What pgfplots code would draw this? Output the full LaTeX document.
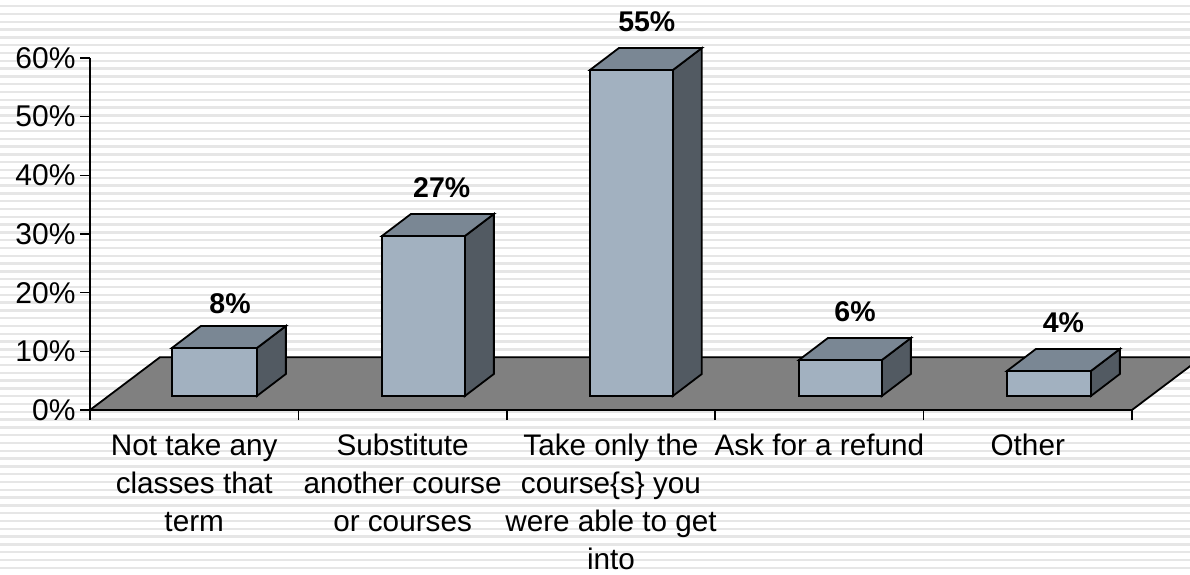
\documentclass[border=0pt]{standalone}
\usepackage{pgfplots}
\pgfplotsset{compat=1.18}
\usepackage{fontspec}
\setmainfont{Liberation Sans}
\definecolor{stripe}{HTML}{E6E6E6}
\definecolor{floorc}{HTML}{808080}
\definecolor{frontc}{HTML}{A2B1C0}
\definecolor{topc}{HTML}{7A8794}
\definecolor{sidec}{HTML}{525A62}
\newcommand\threedbar[6]{%
  \addplot[draw=black,line width=1.8pt,fill=sidec,line join=miter] coordinates {(#2,2.39) (#3,6.14) (#3,#6) (#2,#5)} -- cycle;
  \addplot[draw=black,line width=1.8pt,fill=topc,line join=miter] coordinates {(#1,#5) (#2,#5) (#3,#6) (#4,#6)} -- cycle;
  \addplot[draw=black,line width=1.8pt,fill=frontc,line join=miter] coordinates {(#1,2.39) (#2,2.39) (#2,#5) (#1,#5)} -- cycle;
}
\begin{document}
\begin{tikzpicture}[x=1pt,y=1pt]
\useasboundingbox (0,0) rectangle (1190,574);
\clip (0,0) rectangle (1190,574);
\fill[white] (0,0) rectangle (1190,574);
\foreach \i in {0,...,72} {
  \fill[stripe] (0,{574-5-7.8*\i}) rectangle (1190,{574-5-7.8*\i-2.4});
}
\begin{axis}[
  at={(90pt,164pt)}, anchor=south west,
  scale only axis, width=1042pt, height=352pt,
  xmin=0, xmax=5, ymin=0, ymax=60,
  clip=false,
  axis x line=bottom, axis y line=left,
  axis line style={line width=1.8pt,-},
  tick style={black,line width=1.6pt},
  major tick length=10pt,
  tick align=outside,
  ytick={0,10,20,30,40,50,60},
  yticklabel={\pgfmathprintnumber{\tick}\%},
  yticklabel style={font=\fontsize{30}{36}\selectfont,/pgf/number format/assume math mode=true,xshift=-1pt},
  xtick={0,1,2,3,4,5},
  xticklabels={},
  extra x ticks={0.5,1.5,2.5,3.5,4.5},
  extra x tick labels={Not take any\\classes that\\term,Substitute\\another course\\or courses,Take only the\\course\{s\} you\\were able to get\\into,Ask for a refund,Other},
  extra x tick style={major tick length=0pt,tick style={draw=none},
    tick label style={font=\fontsize{29.7}{37.8}\selectfont,align=center,inner sep=0pt,yshift=-24pt,anchor=north}},
]
\addplot[draw=black,line width=1.8pt,fill=floorc] coordinates {(0,0) (5,0) (5.336,9) (0.336,9)} -- cycle;
\threedbar{0.393}{0.801}{0.940}{0.532}{10.57}{14.32}
\threedbar{1.401}{1.799}{1.938}{1.540}{29.66}{33.41}
\threedbar{2.399}{2.797}{2.936}{2.538}{57.95}{61.70}
\threedbar{3.402}{3.800}{3.939}{3.541}{8.52}{12.27}
\threedbar{4.400}{4.803}{4.942}{4.539}{6.65}{10.40}
\addplot[draw=none,mark=none,point meta=explicit,
  nodes near coords={\pgfmathprintnumber{\pgfplotspointmeta}\%},
  nodes near coords style={font=\fontsize{28.5}{34}\selectfont\bfseries,/pgf/number format/assume math mode=true,anchor=south,yshift=13pt,text=black}]
  coordinates {(0.672,13.64)[8] (1.688,33.41)[27] (2.672,61.70)[55] (3.671,12.27)[6] (4.671,10.40)[4]};
\end{axis}
\end{tikzpicture}
\end{document}
